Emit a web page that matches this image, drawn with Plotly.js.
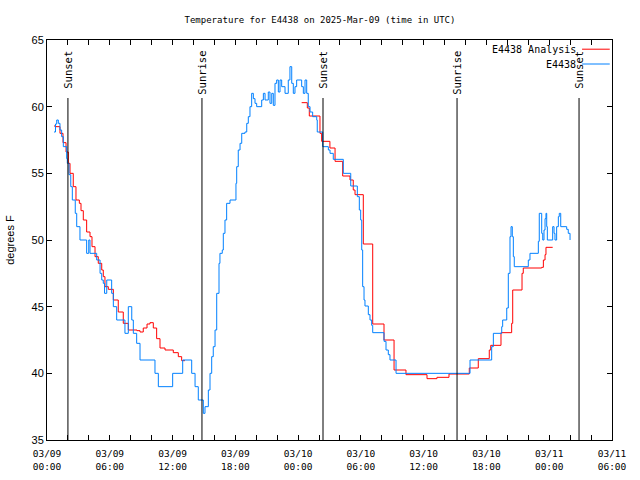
<!DOCTYPE html>
<html>
<head>
<meta charset="utf-8">
<script src="https://cdn.plot.ly/plotly-3.0.1.min.js"></script>
<style>html,body{margin:0;padding:0;background:#fff;}#chart{width:640px;height:480px;}</style>
</head>
<body>
<div id="chart"></div>
<script>
// hours after 2025-03-09 00:00 UTC
const obsHours = [0.67,0.81,0.93,1.08,1.24,1.40,1.56,1.88,1.94,2.10,2.27,2.42,2.70,2.84,3.15,3.79,3.99,4.11,4.75,5.07,5.23,5.38,5.50,5.71,6.18,6.34,6.66,7.45,7.77,8.10,8.25,8.57,8.89,10.32,10.64,12.01,12.97,13.83,14.15,14.46,14.94,15.10,15.42,15.58,15.74,15.89,16.06,16.22,16.44,16.53,16.75,16.85,17.01,17.17,17.49,18.06,18.13,18.28,18.45,18.61,18.92,19.09,19.24,19.40,19.56,19.72,19.88,20.04,20.52,20.68,20.84,21.15,21.31,21.48,21.63,21.79,21.95,22.11,22.27,22.43,22.75,23.06,23.22,23.39,23.54,23.70,23.86,24.34,24.50,24.66,24.82,24.97,25.14,25.39,25.78,25.83,26.35,26.89,27.05,27.36,28.32,29.03,29.66,29.85,29.98,30.08,30.17,30.30,30.39,30.71,30.87,31.03,31.13,32.21,32.40,32.62,32.78,33.36,40.43,42.50,42.66,43.46,43.55,43.94,44.09,44.25,44.35,44.47,44.57,44.66,46.00,46.16,46.96,47.05,47.28,47.38,47.50,47.60,47.69,47.76,47.82,48.33,48.46,48.55,48.71,48.87,48.96,49.10,49.67,49.82,49.99];
const obsTemps = [58.1,58.7,59.0,58.75,58.25,57.75,57.0,56.1,55.75,54.9,54.0,53.0,52.0,51.0,50.0,49.0,50.0,49.0,48.5,47.5,47.0,46.75,46.0,47.0,46.0,45.0,44.0,43.0,45.0,44.0,43.0,42.25,41.0,40.0,39.0,40.0,41.0,40.0,39.0,38.0,37.0,37.5,38.75,40.0,41.25,42.0,43.25,46.0,48.25,49.0,49.25,50.5,51.5,52.75,53.0,54.25,55.5,56.75,57.25,58.0,58.1,58.75,59.25,60.0,61.0,60.6,60.25,60.0,60.5,61.0,60.5,61.1,60.25,61.0,60.1,61.75,62.0,61.1,62.0,61.5,61.0,62.0,63.0,61.75,61.0,61.5,62.0,61.5,61.0,62.0,61.0,60.0,59.6,59.25,59.0,58.1,57.0,56.75,56.5,56.05,55.0,54.05,53.25,52.25,51.5,49.25,46.5,45.5,45.05,44.4,44.0,43.6,43.05,42.4,41.75,41.4,41.0,40.0,41.0,42.0,43.0,43.5,44.0,44.9,47.5,50.25,51.0,50.25,48.75,48.0,48.5,49.0,49.9,52.0,50.5,50.0,50.75,51.6,52.0,51.0,50.0,51.0,50.5,50.0,51.0,51.75,52.0,51.0,50.8,50.5,50.0];

const anaHours = [0.67,0.86,1.24,1.53,1.82,2.04,2.20,2.51,2.77,3.09,3.25,3.47,3.79,4.11,4.30,4.59,4.90,5.23,5.38,5.54,5.86,6.34,6.81,7.29,7.77,8.60,8.89,9.20,9.56,9.84,10.16,10.48,10.80,11.28,12.07,12.55,12.87,13.19,18.0,24.34,24.88,25.07,26.09,26.25,27.04,27.53,28.26,28.96,29.27,29.44,30.23,31.13,32.21,33.17,34.31,36.32,37.27,38.42,40.36,41.22,42.27,42.41,43.39,44.41,44.51,45.40,45.52,47.28,47.44,47.60,47.69,48.33];
const anaTemps = [58.55,58.5,58.0,57.3,56.6,55.75,55.0,54.0,53.0,52.75,52.2,51.5,50.6,50.25,49.5,48.75,48.25,47.75,47.25,46.5,46.3,45.5,44.6,43.75,43.25,43.2,43.1,43.4,43.7,43.8,43.4,42.6,41.9,41.75,41.55,41.25,40.95,40.95,null,60.3,59.9,59.3,58.0,57.4,56.9,55.9,54.8,54.5,53.75,53.4,49.7,43.7,42.5,40.25,39.9,39.6,39.7,39.95,40.4,41.1,41.75,42.1,43.05,43.75,46.25,47.5,47.9,47.95,48.5,48.9,49.45,49.45];

const eventNames = ["Sunset","Sunrise","Sunset","Sunrise","Sunset"];
const eventHours = [2.0,14.81,26.38,39.19,50.85];

const tickHours = [0,6,12,18,24,30,36,42,48,54];
const tickLabels = ["03/09<br>00:00","03/09<br>06:00","03/09<br>12:00","03/09<br>18:00","03/10<br>00:00","03/10<br>06:00","03/10<br>12:00","03/10<br>18:00","03/11<br>00:00","03/11<br>06:00"];

const seriesNames = ["E4438 Analysis","E4438"];
const seriesColors = ["#ff0000","#0080ff"];

const mono = "DejaVu Sans Mono";
const sans = "Liberation Sans";

const traces = [
  {x: anaHours, y: anaTemps, type:'scatter', mode:'lines', line:{color:seriesColors[0], width:1, shape:'hv'}, connectgaps:false, showlegend:false, hoverinfo:'skip'},
  {x: obsHours, y: obsTemps, type:'scatter', mode:'lines', line:{color:seriesColors[1], width:1, shape:'hv'}, showlegend:false, hoverinfo:'skip'}
];

const shapes = [];
const annotations = [];
eventHours.forEach((h,i)=>{
  shapes.push({type:'line', xref:'x', yref:'paper', x0:h, x1:h, y0:0, y1:0.855, line:{color:'#000', width:1}});
  annotations.push({xref:'x', yref:'paper', x:h, y:0.978, xanchor:'center', yanchor:'top', text:eventNames[i], textangle:-90, showarrow:false, font:{family:mono, size:10.5, color:'#000'}});
});
// custom legend (text right, sample on right)
seriesNames.forEach((n,i)=>{
  const yy = 0.977 - i*0.037;
  annotations.push({xref:'paper', yref:'paper', x:0.94, y:yy, xanchor:'right', yanchor:'middle', text:n, showarrow:false, font:{family:mono, size:10, color:'#000'}});
  shapes.push({type:'line', xref:'paper', yref:'paper', x0:0.947, x1:0.996, y0:yy, y1:yy, line:{color:seriesColors[i], width:1}});
});

const layout = {
  width:640, height:480,
  margin:{l:47, r:28, t:40, b:40},
  paper_bgcolor:'#fff', plot_bgcolor:'#fff',
  showlegend:false,
  title:{text:'Temperature for E4438 on 2025-Mar-09 (time in UTC)', x:0.5, xanchor:'center', y:0.958, yanchor:'middle', yref:'container', font:{family:mono, size:9, color:'#000'}},
  xaxis:{range:[0,54], tickvals:tickHours, ticktext:tickLabels, ticks:'inside', ticklen:5, tickcolor:'#000', showline:true, linecolor:'#000', linewidth:1, mirror:'allticks', showgrid:false, zeroline:false, ticklabelstandoff:5, tickfont:{family:mono, size:9.5, color:'#000'},
    minor:{dtick:2, tick0:0, ticks:'inside', ticklen:5, tickcolor:'#000', showgrid:false}},
  yaxis:{range:[35,65], dtick:5, tick0:35, ticks:'inside', ticklen:5, tickcolor:'#000', showline:true, linecolor:'#000', linewidth:1, mirror:'allticks', showgrid:false, zeroline:false, tickfont:{family:sans, size:11, color:'#000'},
    title:{text:'degrees F', standoff:14, font:{family:sans, size:11, color:'#000'}}},
  shapes:shapes,
  annotations:annotations
};

Plotly.newPlot('chart', traces, layout, {staticPlot:true, displayModeBar:false});
</script>
</body>
</html>
